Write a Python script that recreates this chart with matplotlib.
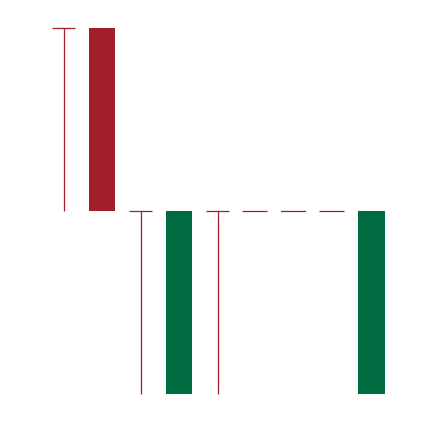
import matplotlib
matplotlib.use("Agg")
import matplotlib.pyplot as plt

# bars: position, bottom, top, colour
bar_pos = [0, 1, 3.5]
bar_bottom = [1, 0, 0]
bar_top = [2, 1, 1]
bar_colors = ["#A11E2B", "#006A41"]
bar_kind = [0, 1, 1]

# thin lines with a cap at the top
line_pos = [-0.5, 0.5, 1.5]
line_low = [1, 0, 0]
line_high = [2, 1, 1]

# dashed connector level
dash_level = 1
dash_from = 1.5
dash_to = 3.5

line_color = "#A11E2B"
bar_w = 0.34
cap_w = 0.31

plt.rcParams["lines.scale_dashes"] = False
fig = plt.figure(figsize=(4.34, 4.22), dpi=100)
ax = fig.add_axes([0, 0, 1, 1])

for p, b, t, k in zip(bar_pos, bar_bottom, bar_top, bar_kind):
    ax.bar(p, t - b, bottom=b, width=bar_w, color=bar_colors[k], linewidth=0)

for p, lo, hi in zip(line_pos, line_low, line_high):
    ax.plot([p, p], [lo, hi], color=line_color, lw=0.9, solid_capstyle="butt")
    ax.plot([p - cap_w / 2, p + cap_w / 2], [hi, hi], color=line_color, lw=0.9,
            solid_capstyle="butt")

ax.plot([dash_from + cap_w / 2, dash_to - bar_w / 2], [dash_level, dash_level],
        color=line_color, lw=0.9, linestyle=(18.3, (18, 9.7)), dash_capstyle="butt")

ax.set_xlim(-1.325, 4.312)
ax.set_ylim(-0.153, 2.153)
ax.axis("off")

fig.savefig("out.png", dpi=100)
